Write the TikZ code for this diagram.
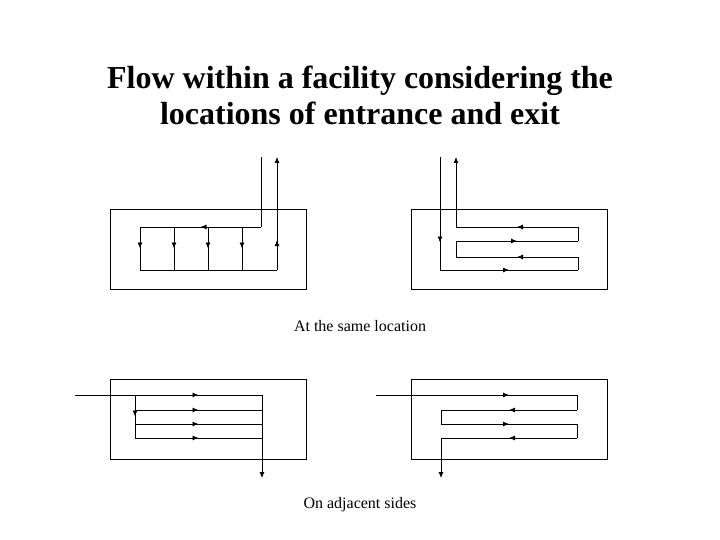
\documentclass[tikz,border=0pt]{standalone}
\usepackage{fontspec}
\setmainfont{Liberation Serif}
\usetikzlibrary{decorations.markings,arrows.meta}
\begin{document}
\begin{tikzpicture}[x=1pt,y=-1pt,line width=0.8pt,
  mid/.style={postaction={decorate},decoration={markings,mark=at position 0.5 with {\arrow{Latex[length=6pt,width=5pt]}}}},
  endarr/.style={-{Latex[length=6pt,width=5pt]}},
  facility/.style={draw,line width=0.8pt},
  lbl/.style={font=\fontsize{16}{18}\selectfont}]
\useasboundingbox (0,0) rectangle (720,540);
\node[font=\bfseries\fontsize{32}{36}\selectfont,align=center] (title) at (360,95) {Flow within a facility considering the\\locations of entrance and exit};
% top-left
\draw[facility] (110,209) rectangle (306,289);
\coordinate (a0) at (261,157); \coordinate (a1) at (261,227);
\coordinate (a2) at (140,227); \coordinate (a3) at (140,270);
\coordinate (a4) at (277,270); \coordinate (a5) at (277,157);
\draw (a0) -- (a1); \draw[mid] (a1) -- (a2);
\foreach \x in {140,174,208,242} \draw[mid] (\x,227) -- (\x,270);
\draw (a3) -- (a4); \draw[mid] (a4) -- (277,210); \draw[endarr] (277,210) -- (a5);
% top-right
\draw[facility] (411,209) rectangle (607,289);
\draw (440,157) -- (440,215); \draw[mid] (440,215) -- (440,270);
\draw[mid] (440,270) -- (578,270); \draw (578,270) -- (578,257);
\draw[mid] (578,257) -- (456,257); \draw (456,257) -- (456,241);
\draw[mid] (456,241) -- (578,241); \draw (578,241) -- (578,227);
\draw[mid] (578,227) -- (456,227); \draw[endarr] (456,227) -- (456,157);
\node[lbl] (l1) at (360,326) {At the same location};
% bottom-left
\draw[facility] (110,379) rectangle (306,459);
\draw (75,395) -- (135,395); \draw[mid] (135,395) -- (262,395);
\draw[mid] (135,395) -- (135,438);
\foreach \y in {410,424,438} \draw[mid] (135,\y) -- (262,\y);
\draw[endarr] (262,395) -- (262,478);
% bottom-right
\draw[facility] (411,379) rectangle (607,459);
\draw (376,395) -- (441,395); \draw[mid] (441,395) -- (577,395); \draw (577,395) -- (577,410);
\draw[mid] (577,410) -- (441,410); \draw (441,410) -- (441,424);
\draw[mid] (441,424) -- (577,424); \draw (577,424) -- (577,438);
\draw[mid] (577,438) -- (441,438); \draw[endarr] (441,438) -- (441,478);
\node[lbl] (l2) at (360,505) {On adjacent sides};
\end{tikzpicture}
\end{document}
